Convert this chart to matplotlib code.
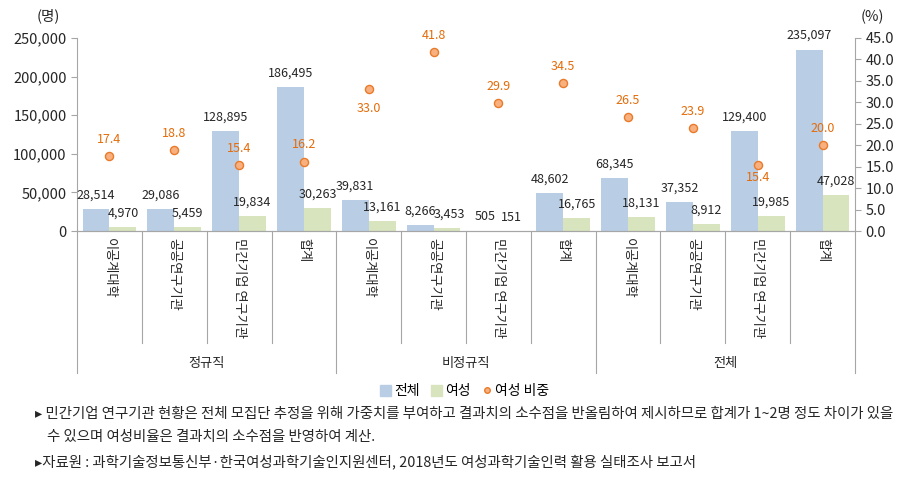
import matplotlib.pyplot as plt
import numpy as np
from matplotlib.lines import Line2D
from matplotlib.patches import Patch

plt.rcParams['font.family'] = ['Noto Sans CJK KR', 'DejaVu Sans']

categories = ['이공계대학', '공공연구기관', '민간기업 연구기관', '합계'] * 3
groups = ['정규직', '비정규직', '전체']
total = [28514, 29086, 128895, 186495,
         39831, 8266, 505, 48602,
         68345, 37352, 129400, 235097]
female = [4970, 5459, 19834, 30263,
          13161, 3453, 151, 16765,
          18131, 8912, 19985, 47028]
ratio = [17.4, 18.8, 15.4, 16.2,
         33.0, 41.8, 29.9, 34.5,
         26.5, 23.9, 15.4, 20.0]

blue = '#B9CDE5'
green = '#D7E4BD'
orange = '#E46C0A'
line_c = '#A6A6A6'
txt_c = '#262626'

fig = plt.figure(figsize=(9.15, 4.84), dpi=100)
ax = fig.add_axes([0.0842, 0.5227, 0.8502, 0.3988])
ax2 = ax.twinx()

x = np.arange(len(categories))
w = 0.415
ax.bar(x - w / 2, total, w, color=blue, zorder=2)
ax.bar(x + w / 2, female, w, color=green, zorder=2)
ax2.scatter(x, ratio, s=34, facecolor='#F7B07E', edgecolor='#E97A2A',
            linewidth=1.0, zorder=3)

ax.set_xlim(-0.5, len(categories) - 0.5)
ax.set_ylim(0, 250000)
ax2.set_ylim(0, 45)
ax.set_yticks(range(0, 250001, 50000))
ax.set_yticklabels([f'{v:,}' for v in range(0, 250001, 50000)])
ax2.set_yticks(np.arange(0, 45.1, 5))
ax2.set_yticklabels([f'{v:.1f}' for v in np.arange(0, 45.1, 5)])
ax.set_xticks([])

for a in (ax, ax2):
    a.spines['top'].set_visible(False)
    a.spines['left'].set_color(line_c)
    a.spines['right'].set_color(line_c)
    a.spines['bottom'].set_color(line_c)
    a.tick_params(axis='y', colors=line_c, labelcolor=txt_c,
                  labelsize=10.5, length=4, direction='out')
ax2.spines['left'].set_visible(False)
ax.spines['right'].set_visible(False)

fig.text(48 / 915, 1 - 16 / 484, '(명)', ha='center', va='center',
         fontsize=10.5, color=txt_c)
fig.text(872 / 915, 1 - 17 / 484, '(%)', ha='center', va='center',
         fontsize=10.5, color=txt_c)

# bar value labels
for i in range(len(categories)):
    ax.annotate(f'{total[i]:,}', (x[i] - w / 2, total[i]), xytext=(0, 10),
                textcoords='offset points', ha='center', va='center',
                fontsize=9, color=txt_c)
    dx = 2 if i == 5 else 0
    ax.annotate(f'{female[i]:,}', (x[i] + w / 2, female[i]), xytext=(dx, 10),
                textcoords='offset points', ha='center', va='center',
                fontsize=9, color=txt_c)

# ratio labels (below for a couple of points)
below = {4: -14, 10: -9}
for i, r in enumerate(ratio):
    dy = below.get(i, 12)
    ax2.annotate(f'{r:.1f}', (x[i], r), xytext=(0, dy),
                 textcoords='offset points', ha='center', va='center',
                 fontsize=9, color=orange)

# category separators and labels under the axis
trans = ax.get_xaxis_transform()
for k in range(len(categories) + 1):
    bottom = -0.736 if k % 4 == 0 else -0.58
    ax.plot([k - 0.5, k - 0.5], [0, bottom], transform=trans, color=line_c,
            lw=0.8, clip_on=False)
for i, c in enumerate(categories):
    ax.text(x[i], -0.035, c, transform=trans, rotation=270, ha='center',
            va='top', fontsize=9.5, color=txt_c)
for g, name in enumerate(groups):
    ax.text(g * 4 + 1.5, -0.685, name, transform=trans, ha='center',
            va='center', fontsize=9.5, color=txt_c)

handles = [Patch(color=blue, label='전체'), Patch(color=green, label='여성'),
           Line2D([], [], marker='o', ls='', markersize=4,
                  markerfacecolor='#F7B07E', markeredgecolor='#E97A2A',
                  label='여성 비중')]
fig.legend(handles=handles, loc='center', bbox_to_anchor=(0.508, 0.192),
           ncol=3, frameon=False, fontsize=10, handlelength=0.8,
           handleheight=0.8, handletextpad=0.2, columnspacing=0.8)

note_font = dict(fontsize=10.4, color=txt_c, va='center',
                 family=['Noto Sans CJK KR', 'DejaVu Sans'])
fig.text(0.038, 1 - 414 / 484,
         '▸ 민간기업 연구기관 현황은 전체 모집단 추정을 위해 가중치를 부여하고 결과치의 소수점을 반올림하여 제시하므로 합계가 1~2명 정도 차이가 있을',
         **note_font)
fig.text(0.051, 1 - 437 / 484,
         '수 있으며 여성비율은 결과치의 소수점을 반영하여 계산.', **note_font)
fig.text(0.038, 1 - 462 / 484,
         '▸자료원 : 과학기술정보통신부·한국여성과학기술인지원센터, 2018년도 여성과학기술인력 활용 실태조사 보고서',
         **note_font)

fig.savefig('out.png', dpi=100)
